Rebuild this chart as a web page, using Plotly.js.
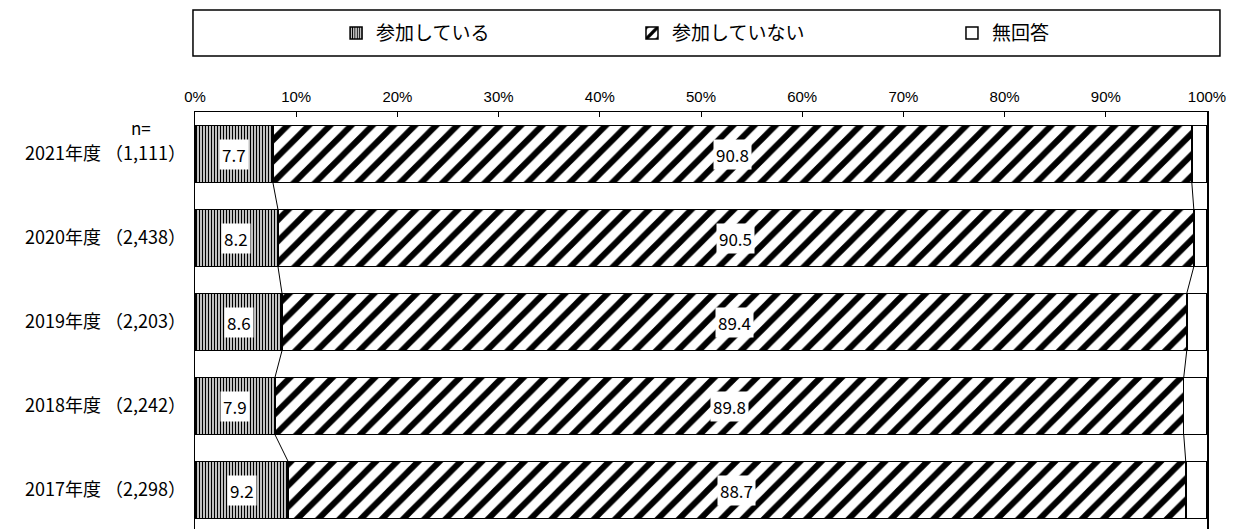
<!DOCTYPE html>
<html>
<head>
<meta charset="utf-8">
<script src="https://cdn.plot.ly/plotly-3.0.1.min.js"></script>
<style>
  html, body { margin: 0; padding: 0; background: #fff; }
  #chart { width: 1238px; height: 529px; }
</style>
</head>
<body>
<div id="chart"></div>
<script>
// Survey results by year (%), top row first
const years = ["2021年度", "2020年度", "2019年度", "2018年度", "2017年度"];
const sampleSizes = ["1,111", "2,438", "2,203", "2,242", "2,298"];
const participating = [7.7, 8.2, 8.6, 7.9, 9.2];
const notParticipating = [90.8, 90.5, 89.4, 89.8, 88.7];
const noAnswer = [1.5, 1.3, 2.0, 2.3, 2.1];
const seriesNames = ["参加している", "参加していない", "無回答"];

const jpFont = "Noto Sans CJK JP";
const barWidth = 0.68;

const yPos = years.map((_, i) => i);
const yLabels = years.map((y, i) => `${y} （${sampleSizes[i]}）`);

const outline = { color: "#000", width: 1.5 };

const traces = [
  {
    type: "bar", orientation: "h", name: seriesNames[0], legend: "legend",
    x: participating, y: yPos, width: barWidth,
    marker: {
      color: "#fff", line: outline,
      pattern: { shape: "|", size: 3, solidity: 0.5, fgcolor: "#000", bgcolor: "#fff" }
    },
    hoverinfo: "skip"
  },
  {
    type: "bar", orientation: "h", name: seriesNames[1], legend: "legend2",
    x: notParticipating, y: yPos, width: barWidth,
    marker: {
      color: "#fff", line: outline,
      pattern: { shape: "/", size: 15, solidity: 0.4, fgcolor: "#000", bgcolor: "#fff" }
    },
    hoverinfo: "skip"
  },
  {
    type: "bar", orientation: "h", name: seriesNames[2], legend: "legend3",
    x: noAnswer, y: yPos, width: barWidth,
    marker: { color: "#fff", line: outline },
    hoverinfo: "skip"
  }
];

// Series lines connecting segment boundaries between adjacent bars
const cum1 = participating;
const cum2 = participating.map((v, i) => v + notParticipating[i]);
const lineX = [];
const lineY = [];
for (let i = 0; i < years.length - 1; i++) {
  [cum1, cum2].forEach(arr => {
    lineX.push(arr[i], arr[i + 1], null);
    lineY.push(i + barWidth / 2, i + 1 - barWidth / 2, null);
  });
}
traces.push({
  type: "scatter", mode: "lines", x: lineX, y: lineY,
  line: { color: "#000", width: 1 }, showlegend: false, hoverinfo: "skip"
});

// Value labels in white boxes
const labelFont = { family: jpFont, size: 17, color: "#000" };
const annotations = [];
years.forEach((_, i) => {
  annotations.push({
    x: participating[i] / 2, y: i, xref: "x", yref: "y",
    text: participating[i].toFixed(1), showarrow: false,
    bgcolor: "#fff", borderpad: 2, font: labelFont
  });
  annotations.push({
    x: participating[i] + notParticipating[i] / 2, y: i, xref: "x", yref: "y",
    text: notParticipating[i].toFixed(1), showarrow: false,
    bgcolor: "#fff", borderpad: 2, font: labelFont
  });
});
annotations.push({
  x: 0, y: 0.963, xref: "paper", yref: "paper", xanchor: "right", yanchor: "middle",
  xshift: -42, text: "n=", showarrow: false,
  font: { family: jpFont, size: 17, color: "#000" }
});

// one legend per series so each entry sits where the reference has it
const legendBase = (x) => ({
  orientation: "h", x: x, xanchor: "left", y: 1.189, yanchor: "middle",
  bgcolor: "rgba(0,0,0,0)", borderwidth: 0,
  font: { family: jpFont, size: 19, color: "#000" }
});

const layout = {
  width: 1238, height: 529,
  margin: { l: 195, r: 31, t: 112, b: 0 },
  paper_bgcolor: "#fff", plot_bgcolor: "#fff",
  barmode: "stack",
  showlegend: true,
  legend: legendBase(0.1394),
  legend2: legendBase(0.4318),
  legend3: legendBase(0.748),
  xaxis: {
    side: "top", range: [0, 100], dtick: 10, ticksuffix: "%",
    showgrid: false, zeroline: false,
    showline: true, linecolor: "#000", linewidth: 1.5, mirror: false,
    ticks: "inside", ticklen: 5, tickcolor: "#000", tickwidth: 1,
    ticklabelstandoff: 3,
    tickfont: { family: "Liberation Sans", size: 15, color: "#000" },
    fixedrange: true
  },
  yaxis: {
    range: [4.464, -0.5], tickvals: yPos, ticktext: yLabels,
    showgrid: false, zeroline: false,
    showline: true, linecolor: "#000", linewidth: 1.5, mirror: true,
    ticks: "", ticklabelstandoff: 4,
    tickfont: { family: jpFont, size: 18, color: "#000" },
    fixedrange: true
  },
  shapes: [{
    type: "rect", xref: "paper", yref: "paper",
    x0: -0.002, x1: 1.0128, y0: 1.1343, y1: 1.2446,
    line: { color: "#000", width: 1.5 }, fillcolor: "rgba(0,0,0,0)"
  }],
  annotations: annotations
};

Plotly.newPlot("chart", traces, layout, { displayModeBar: false, staticPlot: true });
</script>
</body>
</html>
